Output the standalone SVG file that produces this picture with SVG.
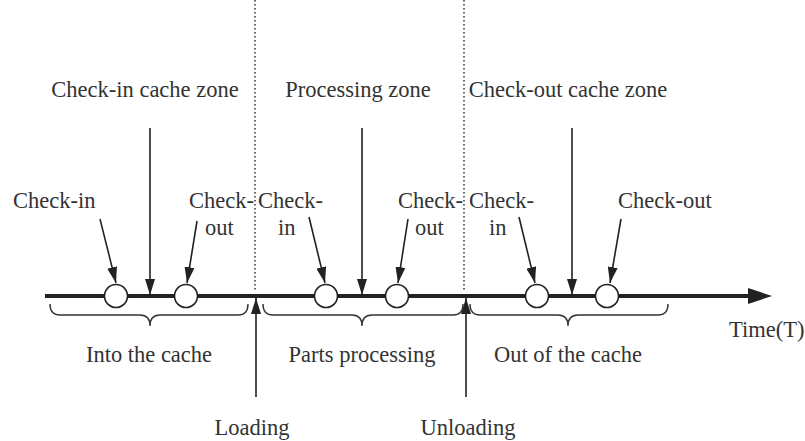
<svg xmlns="http://www.w3.org/2000/svg" width="805" height="441" viewBox="0 0 805 441">
<defs>
<marker id="ahb" viewBox="0 0 10 10" refX="10" refY="5" markerWidth="16" markerHeight="10" markerUnits="userSpaceOnUse" orient="auto" preserveAspectRatio="none">
<path d="M0,0 L10,5 L0,10 Z" fill="#222"/>
</marker>
</defs>
<style>
text{font-family:"Liberation Serif","Times New Roman","DejaVu Serif",serif;font-size:22.5px;fill:#333}
.c{text-anchor:middle}
.ln{stroke:#222;stroke-width:1.6;fill:none}
.dot{stroke:#333;stroke-width:1.5;stroke-dasharray:1.5,2.5;fill:none}
.br{stroke:#333;stroke-width:1.4;fill:none}
.node{fill:#fff;stroke:#222;stroke-width:1.6}
</style>
<rect width="805" height="441" fill="#fff"/>
<g id="dividers">
<line class="dot" x1="255" y1="0" x2="255" y2="290"/>
<line class="dot" x1="464" y1="0" x2="464" y2="290"/>
</g>
<g id="timeline">
<line x1="45" y1="296" x2="752" y2="296" stroke="#222" stroke-width="4"/>
<path d="M748,288 L772,296 L748,304 Z" fill="#222"/>
<text x="729" y="337">Time(T)</text>
</g>
<g id="connectors">
<line class="ln" x1="150" y1="128" x2="150" y2="295" marker-end="url(#ahb)"/>
<line class="ln" x1="362" y1="128" x2="362" y2="295" marker-end="url(#ahb)"/>
<line class="ln" x1="572" y1="128" x2="572" y2="295" marker-end="url(#ahb)"/>
<line class="ln" x1="100" y1="219" x2="116" y2="283" marker-end="url(#ahb)"/>
<line class="ln" x1="197" y1="221" x2="187" y2="283" marker-end="url(#ahb)"/>
<line class="ln" x1="309" y1="217" x2="325" y2="283" marker-end="url(#ahb)"/>
<line class="ln" x1="408" y1="219" x2="398" y2="283" marker-end="url(#ahb)"/>
<line class="ln" x1="519" y1="217" x2="535" y2="283" marker-end="url(#ahb)"/>
<line class="ln" x1="621" y1="219" x2="610" y2="283" marker-end="url(#ahb)"/>
<line class="ln" x1="256" y1="397" x2="256" y2="298" marker-end="url(#ahb)"/>
<line class="ln" x1="466" y1="397" x2="466" y2="298" marker-end="url(#ahb)"/>
</g>
<g id="n1"><circle class="node" cx="116" cy="296" r="11.5"/></g>
<g id="n2"><circle class="node" cx="186" cy="296" r="11.5"/></g>
<g id="n3"><circle class="node" cx="326" cy="296" r="11.5"/></g>
<g id="n4"><circle class="node" cx="397" cy="296" r="11.5"/></g>
<g id="n5"><circle class="node" cx="537" cy="296" r="11.5"/></g>
<g id="n6"><circle class="node" cx="607" cy="296" r="11.5"/></g>
<g id="braces">
<path class="br" d="M50,304 Q50,315 60,315 L140,315 Q150,315 150,326 Q150,315 160,315 L238,315 Q248,315 248,304"/>
<path class="br" d="M263,304 Q263,315 273,315 L352,315 Q362,315 362,326 Q362,315 372,315 L453,315 Q463,315 463,304"/>
<path class="br" d="M470,304 Q470,315 480,315 L558,315 Q568,315 568,326 Q568,315 578,315 L658,315 Q668,315 668,304"/>
</g>
<g id="labels">
<text class="c" x="145" y="97">Check-in cache zone</text>
<text class="c" x="358" y="97">Processing zone</text>
<text class="c" x="568" y="97">Check-out cache zone</text>
<text x="13" y="208">Check-in</text>
<text x="189" y="208">Check-</text>
<text x="205" y="235">out</text>
<text x="258" y="208">Check-</text>
<text x="278" y="235">in</text>
<text x="398" y="208">Check-</text>
<text x="415" y="235">out</text>
<text x="469" y="208">Check-</text>
<text x="489" y="235">in</text>
<text x="618" y="208">Check-out</text>
<text class="c" x="149" y="362">Into the cache</text>
<text class="c" x="362" y="362">Parts processing</text>
<text class="c" x="568" y="362">Out of the cache</text>
<text class="c" x="252" y="435">Loading</text>
<text class="c" x="468" y="435">Unloading</text>
</g>
</svg>
